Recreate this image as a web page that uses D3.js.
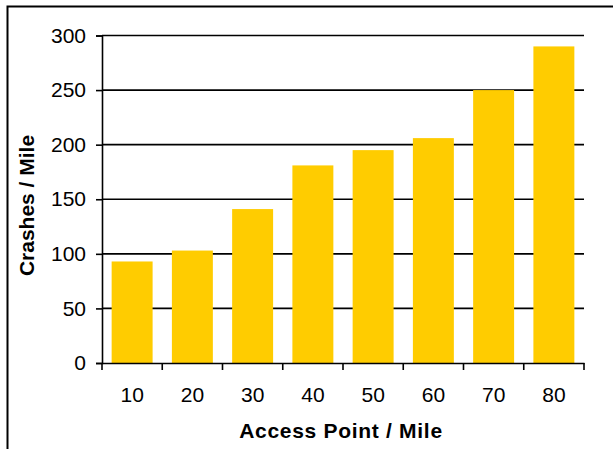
<!DOCTYPE html>
<html><head><meta charset="utf-8">
<script src="https://cdn.jsdelivr.net/npm/d3@7"></script>
<style>body{margin:0;background:#fff}svg{display:block}text{font-family:"Liberation Sans",Arial,sans-serif}</style>
</head><body>
<svg id="c" width="613" height="449"></svg>
<script>
const categories = ["10","20","30","40","50","60","70","80"];
const crashes = [93, 103, 141, 181, 195, 206, 250, 290];
const yTicks = [0, 50, 100, 150, 200, 250, 300];

const svg = d3.select("#c");
const plotLeft = 102, plotRight = 584, plotTop = 35.5, plotBottom = 363;
const FONT = '"Liberation Sans",Arial,sans-serif';

// outer frame
svg.append("rect").attr("x", 7.5).attr("y", 6.5).attr("width", 620).attr("height", 460)
  .attr("fill", "none").attr("stroke", "#000").attr("stroke-width", 2);

const x = d3.scaleBand().domain(categories).range([plotLeft, plotRight]).paddingInner(0.32).paddingOuter(0.16);
const y = d3.scaleLinear().domain([0, 300]).range([plotBottom, plotTop]);

// gridlines
svg.append("g").selectAll("line").data(yTicks.filter(d => d > 0)).join("line")
  .attr("x1", plotLeft).attr("x2", plotRight).attr("y1", d => y(d)).attr("y2", d => y(d))
  .attr("stroke", "#000").attr("stroke-width", 1.6);

// bars
svg.append("g").selectAll("rect").data(crashes).join("rect")
  .attr("x", (d, i) => x(categories[i]))
  .attr("width", x.bandwidth())
  .attr("y", d => y(d))
  .attr("height", d => y(0) - y(d))
  .attr("fill", "#FFCC00");

// y axis
const yAxis = svg.append("g").attr("transform", `translate(${plotLeft},0)`)
  .call(d3.axisLeft(y).tickValues(yTicks).tickSize(6).tickPadding(10));
yAxis.select(".domain").attr("stroke-width", 1.6);
yAxis.selectAll(".tick line").attr("stroke-width", 1.6);
yAxis.selectAll("text").attr("font-size", 21).attr("fill", "#000").style("font-family", FONT);

// x axis
const xAxis = svg.append("g").attr("transform", `translate(0,${plotBottom})`)
  .call(d3.axisBottom(x).tickSize(0).tickPadding(24));
xAxis.select(".domain").attr("stroke-width", 1.6);
xAxis.selectAll("text").attr("font-size", 21).attr("fill", "#000").style("font-family", FONT);
const bounds = d3.range(categories.length + 1).map(i => plotLeft + i * (plotRight - plotLeft) / categories.length);
svg.append("g").selectAll("line").data(bounds).join("line")
  .attr("x1", d => d).attr("x2", d => d).attr("y1", plotBottom).attr("y2", plotBottom + 7)
  .attr("stroke", "#000").attr("stroke-width", 1.6);

// axis titles
svg.append("text").attr("x", 341).attr("y", 438).attr("text-anchor", "middle")
  .attr("font-size", 21).attr("font-weight", "bold").attr("letter-spacing", 0.7).text("Access Point / Mile");
svg.append("text").attr("transform", "translate(33.5,205.5) rotate(-90)").attr("text-anchor", "middle")
  .attr("font-size", 21).attr("font-weight", "bold").text("Crashes / Mile");
</script>
</body></html>
